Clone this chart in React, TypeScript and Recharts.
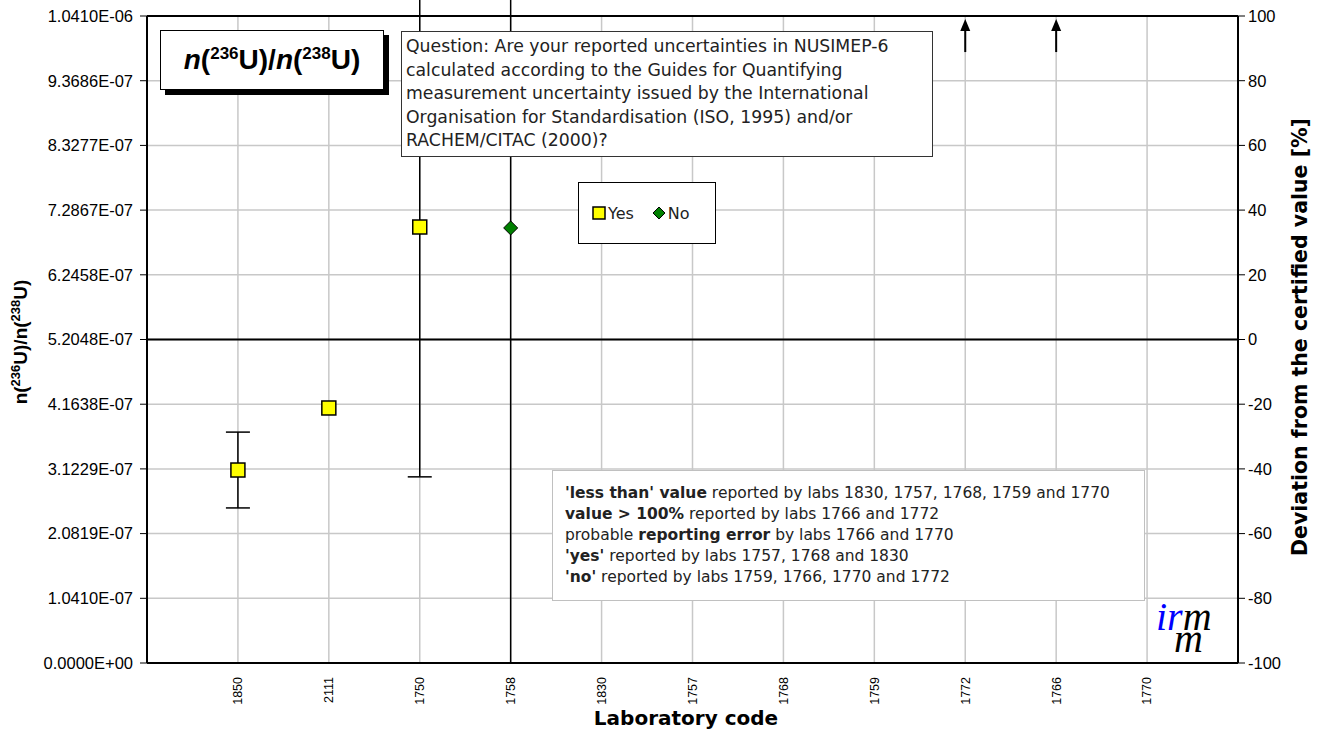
import React from "react";
import {
  ComposedChart,
  Scatter,
  XAxis,
  YAxis,
  CartesianGrid,
  ErrorBar,
  ReferenceLine,
} from "recharts";

// Laboratory codes along the x axis (positions 1..11)
const labCodes = ["1850", "2111", "1750", "1758", "1830", "1757", "1768", "1759", "1772", "1766", "1770"];

// 'Yes' answers: lab position, n(236U)/n(238U), expanded uncertainty
const yesPos = [1, 2, 3];
const yesValue = [3.105e-7, 4.103e-7, 7.015e-7];
const yesUnc = [6.1e-8, 0, 4.02e-7];

// 'No' answers
const noPos = [4];
const noValue = [7.0e-7];
const noUnc = [7.0e-7];

// values > 100 % shown as arrows
const arrowPos = [9, 10];
const arrowValue = [9.83e-7, 9.83e-7];

const leftTicks = [0, 1.041e-7, 2.0819e-7, 3.1229e-7, 4.1638e-7, 5.2048e-7, 6.2458e-7, 7.2867e-7, 8.3277e-7, 9.3686e-7, 1.041e-6];
const rightTicks = [-100, -80, -60, -40, -20, 0, 20, 40, 60, 80, 100];
const xTicks = [1, 2, 3, 4, 5, 6, 7, 8, 9, 10, 11];

const yesData = yesPos.map((x, i) => ({ x, y: yesValue[i], err: yesUnc[i] }));
const noData = noPos.map((x, i) => ({ x, y: noValue[i], err: noUnc[i] }));
const arrowData = arrowPos.map((x, i) => ({ x, y: arrowValue[i] }));

const sci = (v: number) => {
  if (v === 0) return "0.0000E+00";
  const [m, e] = v.toExponential(4).split("e");
  const n = parseInt(e, 10);
  return `${m}E${n < 0 ? "-" : "+"}${String(Math.abs(n)).padStart(2, "0")}`;
};

const YesMarker = (p: any) => (
  <rect x={p.cx - 7} y={p.cy - 7} width={14} height={14} fill="#ffff00" stroke="#000" strokeWidth={1.5} />
);

const NoMarker = (p: any) => (
  <polygon
    points={`${p.cx},${p.cy - 7} ${p.cx + 7},${p.cy} ${p.cx},${p.cy + 7} ${p.cx - 7},${p.cy}`}
    fill="#008000"
    stroke="#000"
    strokeWidth={1}
  />
);

const Arrow = (p: any) => (
  <g>
    <line x1={p.cx} y1={p.cy} x2={p.cx} y2={p.cy - 24} stroke="#000" strokeWidth={2} />
    <polygon points={`${p.cx},${p.cy - 33} ${p.cx - 5},${p.cy - 21} ${p.cx + 5},${p.cy - 21}`} fill="#000" />
  </g>
);

const XTick = ({ x, y, payload }: any) => (
  <text
    x={x}
    y={y}
    transform={`rotate(-90, ${x}, ${y})`}
    textAnchor="end"
    dy="0.35em"
    fontSize={12.5}
    fontFamily="Liberation Sans, Arial, sans-serif"
    fill="#000"
  >
    {labCodes[payload.value - 1]}
  </text>
);

const sans = "Liberation Sans, Arial, sans-serif";
const verdana = "DejaVu Sans, Verdana, sans-serif";

export default function App() {
  return (
    <div style={{ position: "absolute", left: 0, top: 0, width: 1319, height: 735, background: "#fff" }}>
      {/* error bars run past the plot top like the original */}
      <style>{`.recharts-scatter, .recharts-scatter * { clip-path: none !important; }`}</style>
      <ComposedChart
        width={1319}
        height={735}
        margin={{ top: 16, right: 21, bottom: 12, left: 37 }}
      >
        <CartesianGrid yAxisId="left" stroke="#c8c8c8" strokeWidth={1.5} />
        <XAxis
          type="number"
          dataKey="x"
          domain={[0, 12]}
          ticks={xTicks}
          interval={0}
          height={60}
          tick={<XTick />}
          tickLine={false}
          tickMargin={8}
          axisLine={{ stroke: "#000", strokeWidth: 2 }}
          allowDataOverflow
        />
        <YAxis
          yAxisId="left"
          type="number"
          dataKey="y"
          domain={[0, 1.041e-6]}
          allowDataOverflow
          ticks={leftTicks}
          interval={0}
          width={110}
          tickFormatter={sci}
          tick={{ fontSize: 16.5, fill: "#000", fontFamily: sans }}
          tickSize={7}
          tickMargin={7}
          tickLine={{ stroke: "#000" }}
          axisLine={{ stroke: "#000", strokeWidth: 2 }}
        />
        <YAxis
          yAxisId="right"
          orientation="right"
          type="number"
          domain={[-100, 100]}
          ticks={rightTicks}
          interval={0}
          width={60}
          tick={{ fontSize: 16.5, fill: "#000", fontFamily: sans }}
          tickSize={7}
          tickMargin={3}
          tickLine={{ stroke: "#000" }}
          axisLine={{ stroke: "#000", strokeWidth: 2 }}
          allowDataOverflow
        />
        <ReferenceLine yAxisId="right" y={0} stroke="#000" strokeWidth={2} />
        <ReferenceLine yAxisId="right" y={100} stroke="#000" strokeWidth={2} />
        <Scatter yAxisId="left" name="Yes" data={yesData} shape={<YesMarker />} isAnimationActive={false}>
          <ErrorBar dataKey="err" direction="y" width={12} stroke="#000" strokeWidth={1.5} />
        </Scatter>
        <Scatter yAxisId="left" name="No" data={noData} shape={<NoMarker />} isAnimationActive={false}>
          <ErrorBar dataKey="err" direction="y" width={12} stroke="#000" strokeWidth={1.5} />
        </Scatter>
        <Scatter yAxisId="left" name="> 100%" data={arrowData} shape={<Arrow />} isAnimationActive={false} legendType="none" />
      </ComposedChart>

      {/* legend */}
      <div
        style={{
          position: "absolute",
          left: 578,
          top: 182,
          width: 136,
          height: 60,
          border: "1px solid #000",
          background: "#fff",
          display: "flex",
          alignItems: "center",
          fontFamily: verdana,
          fontSize: 16,
          color: "#222",
        }}
      >
        <svg width={14} height={14} style={{ marginLeft: 13, marginRight: 2 }}>
          <rect x={1} y={1} width={12} height={12} fill="#ffff00" stroke="#000" strokeWidth={1.5} />
        </svg>
        <span>Yes</span>
        <svg width={14} height={14} style={{ marginLeft: 18, marginRight: 2 }}>
          <polygon points="7,1 13,7 7,13 1,7" fill="#008000" stroke="#000" strokeWidth={1} />
        </svg>
        <span>No</span>
      </div>

      {/* title box */}
      <div
        style={{
          position: "absolute",
          left: 160,
          top: 30,
          width: 222,
          height: 58,
          border: "1.5px solid #000",
          boxShadow: "5px 5px 0 #000",
          background: "#fff",
          display: "flex",
          alignItems: "center",
          justifyContent: "center",
          fontFamily: sans,
          fontWeight: "bold",
          fontSize: 28,
        }}
      >
        <span>
          <i>n</i>(<sup style={{ fontSize: 17 }}>236</sup>U)/<i>n</i>(<sup style={{ fontSize: 17 }}>238</sup>U)
        </span>
      </div>

      {/* question box */}
      <div
        style={{
          position: "absolute",
          left: 401,
          top: 31,
          width: 522,
          height: 118,
          border: "1px solid #333",
          background: "#fff",
          padding: "3px 4px",
          fontFamily: verdana,
          fontSize: 17.3,
          lineHeight: "23.5px",
          color: "#222",
          whiteSpace: "nowrap",
        }}
      >
        Question: Are your reported uncertainties in NUSIMEP-6
        <br />
        calculated according to the Guides for Quantifying
        <br />
        measurement uncertainty issued by the International
        <br />
        Organisation for Standardisation (ISO, 1995) and/or
        <br />
        RACHEM/CITAC (2000)?
      </div>

      {/* notes box */}
      <div
        style={{
          position: "absolute",
          left: 552,
          top: 470,
          width: 579,
          height: 117,
          border: "1px solid #c0c0c0",
          background: "#fff",
          padding: "12px 0 0 12px",
          fontFamily: verdana,
          fontSize: 15.5,
          lineHeight: "21px",
          color: "#222",
          whiteSpace: "nowrap",
        }}
      >
        <b>'less than' value</b> reported by labs 1830, 1757, 1768, 1759 and 1770
        <br />
        <b>value &gt; 100%</b> reported by labs 1766 and 1772
        <br />
        probable <b>reporting error</b> by labs 1766 and 1770
        <br />
        <b>'yes'</b> reported by labs 1757, 1768 and 1830
        <br />
        <b>'no'</b> reported by labs 1759, 1766, 1770 and 1772
      </div>

      {/* irmm logo */}
      <svg style={{ position: "absolute", left: 1150, top: 580 }} width={80} height={84}>
        <text fontFamily="Liberation Serif, serif" fontStyle="italic" fontSize={40}>
          <tspan x={6} y={50} fill="#0000ff">ir</tspan>
          <tspan fill="#000">m</tspan>
          <tspan x={24} y={72} fill="#000">m</tspan>
        </text>
      </svg>

      {/* axis titles */}
      <div
        style={{
          position: "absolute",
          left: 20,
          top: 342,
          transform: "translate(-50%, -50%) rotate(-90deg)",
          fontFamily: sans,
          fontWeight: "bold",
          fontSize: 19,
          whiteSpace: "nowrap",
        }}
      >
        n(<sup style={{ fontSize: 13 }}>236</sup>U)/n(<sup style={{ fontSize: 13 }}>238</sup>U)
      </div>
      <div
        style={{
          position: "absolute",
          left: 1300,
          top: 337,
          transform: "translate(-50%, -50%) rotate(-90deg)",
          fontFamily: verdana,
          fontWeight: "bold",
          fontSize: 20.5,
          whiteSpace: "nowrap",
        }}
      >
        Deviation from the certified value [%]
      </div>
      <div
        style={{
          position: "absolute",
          left: 686,
          top: 718,
          transform: "translate(-50%, -50%)",
          fontFamily: verdana,
          fontWeight: "bold",
          fontSize: 20,
          whiteSpace: "nowrap",
        }}
      >
        Laboratory code
      </div>
    </div>
  );
}
